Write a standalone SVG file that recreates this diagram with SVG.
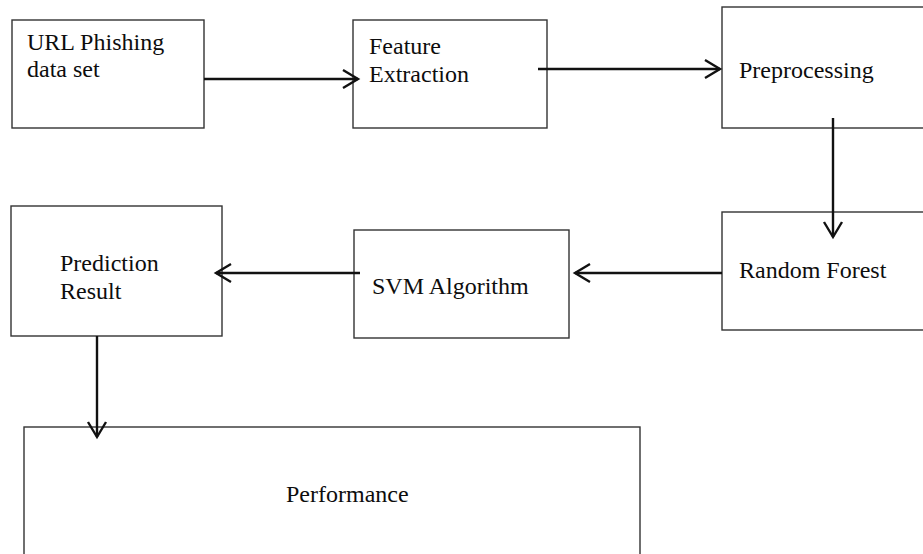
<svg xmlns="http://www.w3.org/2000/svg" width="923" height="554" viewBox="0 0 923 554">
  <style>
    .box { fill: #ffffff; stroke: #333333; stroke-width: 1.4; }
    .lbl { font-family: "Liberation Serif", "Times New Roman", serif; font-size: 24px; fill: #0d0d0d; }
    .wire { fill: none; stroke: #111111; stroke-width: 2.4; }
  </style>
  <defs>
    <marker id="chev" markerUnits="userSpaceOnUse" markerWidth="20" markerHeight="22" viewBox="0 0 20 22" refX="17" refY="11" orient="auto">
      <path d="M2,2 L17,11 L2,20" fill="none" stroke="#111111" stroke-width="2.4"/>
    </marker>
  </defs>
  <rect width="923" height="554" fill="#ffffff"/>

  <g id="node-dataset">
    <rect class="box" x="12" y="20" width="192" height="108"/>
    <text class="lbl" x="27" y="50">URL Phishing</text>
    <text class="lbl" x="27" y="77">data set</text>
  </g>
  <g id="node-feature">
    <rect class="box" x="353" y="20" width="194" height="108"/>
    <text class="lbl" x="369" y="54">Feature</text>
    <text class="lbl" x="369" y="82">Extraction</text>
  </g>
  <g id="node-preprocessing">
    <rect class="box" x="722" y="7" width="210" height="121"/>
    <text class="lbl" x="739" y="78">Preprocessing</text>
  </g>
  <g id="node-randomforest">
    <rect class="box" x="722" y="212" width="210" height="118"/>
    <text class="lbl" x="739" y="278">Random Forest</text>
  </g>
  <g id="node-svm">
    <rect class="box" x="354" y="230" width="215" height="108"/>
    <text class="lbl" x="372" y="294">SVM Algorithm</text>
  </g>
  <g id="node-prediction">
    <rect class="box" x="11" y="206" width="211" height="130"/>
    <text class="lbl" x="60" y="271">Prediction</text>
    <text class="lbl" x="60" y="299">Result</text>
  </g>
  <g id="node-performance">
    <rect class="box" x="24" y="427" width="616" height="140"/>
    <text class="lbl" x="286" y="502">Performance</text>
  </g>

  <g id="connectors">
    <line class="wire" x1="204" y1="79" x2="358" y2="79" marker-end="url(#chev)"/>
    <line class="wire" x1="538" y1="69" x2="720" y2="69" marker-end="url(#chev)"/>
    <line class="wire" x1="833" y1="118" x2="833" y2="237" marker-end="url(#chev)"/>
    <line class="wire" x1="722" y1="273" x2="575" y2="273" marker-end="url(#chev)"/>
    <line class="wire" x1="360" y1="273" x2="216" y2="273" marker-end="url(#chev)"/>
    <line class="wire" x1="97" y1="336" x2="97" y2="437" marker-end="url(#chev)"/>
  </g>
</svg>
